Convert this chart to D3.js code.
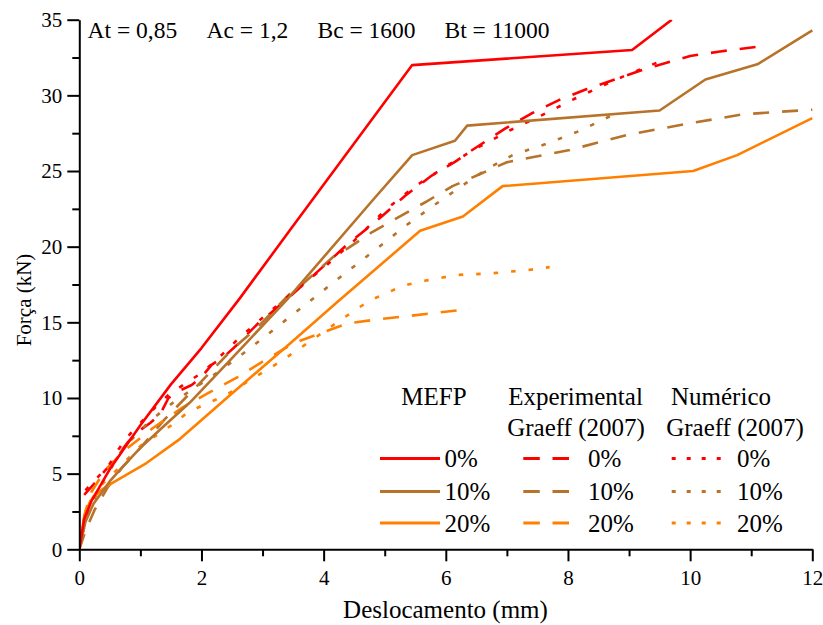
<!DOCTYPE html>
<html><head><meta charset="utf-8">
<script src="https://cdn.jsdelivr.net/npm/d3@7"></script>
<style>
body{margin:0;background:#fff}
text{font-family:"Liberation Serif","Times New Roman",serif;fill:#000}
</style>
</head><body>
<svg id="chart" width="823" height="625"></svg>
<script>
// ---------- data ----------
const xTicks = [0, 2, 4, 6, 8, 10, 12];
const xMinor = [1, 3, 5, 7, 9, 11];
const yTicks = [0, 5, 10, 15, 20, 25, 30, 35];
const yMinor = [2.5, 7.5, 12.5, 17.5, 22.5, 27.5, 32.5];

const mefp0 = [[0,0],[0.08,2.0],[0.2,3.2],[0.5,5.3],[1.0,8.2],[1.5,10.9],[2.0,13.3],[2.63,16.6],[3.45,21.1],[5.45,32],[9.05,33],[9.7,35]];
const mefp10 = [[0,0],[0.1,1.8],[0.23,3.0],[0.5,4.5],[0.72,5.5],[1.0,6.7],[1.4,8.2],[1.81,9.7],[2.47,12.5],[3.4,16.5],[4.81,23.1],[5.45,26.05],[6.15,27],[6.35,28],[9.5,29],[10.25,31.05],[11.1,32.05],[12,34.3]];
const mefp20 = [[0,0],[0.08,2.2],[0.18,3.2],[0.35,3.9],[0.55,4.4],[1.1,5.7],[1.65,7.3],[2.47,10.2],[3.45,13.6],[4.21,16.3],[5.58,21.05],[6.28,22.0],[6.93,24.0],[10.05,25.0],[10.77,26.05],[12,28.5]];

const exp0 = [[0.08,3.6],[0.26,4.4],[0.42,5.2],[0.56,5.8],[0.8,7.1],[0.97,7.8],[1.16,8.35],[1.32,8.9],[1.46,10.0],[1.65,10.5],[1.84,10.86],[1.98,11.3],[2.17,12.2],[2.36,12.7],[2.58,13.5],[2.71,14.05],[2.93,14.94],[3.1,15.5],[3.45,16.7],[4.16,19.3],[4.4,20.2],[4.62,20.9],[4.95,22.0],[5.33,23.35],[5.77,24.7],[6.15,25.6],[6.4,26.3],[6.97,27.8],[7.4,28.8],[7.86,29.7],[8.3,30.4],[8.8,31.1],[9.23,31.7],[10.0,32.6],[10.49,32.9],[11.21,33.27]];
const exp10 = [[0,0],[0.1,1.2],[0.25,2.6],[0.45,4.0],[0.7,5.4],[1.0,6.7],[1.4,8.6],[2.0,11.1],[2.5,13.2],[2.9,14.6],[3.45,16.9],[3.61,17.36],[4.16,19.34],[4.4,19.9],[4.81,21.0],[5.25,22.0],[5.69,23.0],[6.11,24.0],[6.59,24.85],[7.0,25.58],[8.03,26.39],[8.96,27.38],[9.92,28.1],[10.87,28.75],[11.9,29.03],[12,29.05]];
const exp20 = [[0,0],[0.1,2.5],[0.2,3.8],[0.4,5.1],[0.7,6.4],[1.2,8.0],[1.7,9.4],[2.1,10.3],[2.6,11.4],[3.0,12.4],[3.5,13.6],[3.94,14.27],[4.4,14.94],[4.9,15.2],[5.4,15.42],[5.9,15.66],[6.39,15.88]];

const num0 = [[0.1,3.9],[0.31,4.8],[0.47,5.46],[0.64,6.6],[0.83,7.62],[1.02,8.43],[1.24,9.36],[1.46,10.2],[1.7,10.86],[1.95,11.52],[2.19,12.3],[2.6,13.9],[3.0,15.3],[3.5,17.0],[4.0,18.6],[4.5,20.4],[5.03,22.5],[5.5,24.0],[6.0,25.3],[6.5,26.5],[7.04,27.67],[7.56,28.66],[8.09,29.74],[8.6,30.7],[8.9,31.24],[9.45,32.15]];
const num10 = [[0,0],[0.05,1.0],[0.15,2.5],[0.35,4.2],[0.72,6.7],[0.94,7.6],[1.13,8.4],[1.6,9.9],[2.09,11.2],[2.56,12.56],[3.02,14.0],[3.49,15.5],[3.95,16.96],[4.42,18.46],[4.88,19.9],[5.35,21.4],[5.83,22.8],[6.33,24.2],[6.7,25.2],[7.1,26.06],[7.65,26.8],[8.2,27.67],[8.47,28.2],[8.73,28.7]];
const num20 = [[0,0],[0.1,2.5],[0.3,4.0],[0.7,5.6],[1.02,6.9],[1.27,7.55],[1.51,8.2],[1.76,9.0],[2.03,9.54],[2.29,9.98],[2.55,10.53],[2.79,11.19],[3.04,11.78],[3.29,12.4],[3.53,13.06],[3.77,13.72],[4.02,14.43],[4.26,15.1],[4.5,15.77],[4.75,16.43],[5.02,16.92],[5.29,17.4],[5.58,17.69],[5.88,17.91],[6.17,18.13],[6.46,18.18],[6.76,18.24],[7.05,18.35],[7.35,18.46],[7.7,18.65]];

const rowLabels = ["0%", "10%", "20%"];
const colHeaders = [["MEFP"], ["Experimental", "Graeff (2007)"], ["Numérico", "Graeff (2007)"]];
const annotations = ["At = 0,85", "Ac = 1,2", "Bc = 1600", "Bt = 11000"];
const xTitle = "Deslocamento (mm)";
const yTitle = "Força (kN)";

// ---------- styles ----------
const colors = ["#FF0000", "#B8732B", "#FF8000"];
const dashStyles = ["none", "16,13", "4.5,13"];
const series = [
  {d: exp0, c: 0, s: 1}, {d: exp10, c: 1, s: 1}, {d: exp20, c: 2, s: 1},
  {d: num0, c: 0, s: 2}, {d: num10, c: 1, s: 2}, {d: num20, c: 2, s: 2},
  {d: mefp20, c: 2, s: 0}, {d: mefp10, c: 1, s: 0}, {d: mefp0, c: 0, s: 0}
];

// ---------- layout ----------
const svg = d3.select("#chart");
const pL = 79.3, pR = 812.3, pT = 19.7, pB = 549.3;
const x = d3.scaleLinear().domain([0, 12]).range([pL, pR]);
const y = d3.scaleLinear().domain([0, 35]).range([pB, pT]);

svg.append("defs").append("clipPath").attr("id", "clip")
  .append("rect").attr("x", pL).attr("y", pT).attr("width", pR - pL + 10).attr("height", pB - pT);

const line = d3.line().x(d => x(d[0])).y(d => y(d[1]));
const g = svg.append("g").attr("clip-path", "url(#clip)");
series.forEach(sr => {
  g.append("path").attr("d", line(sr.d))
    .attr("fill", "none").attr("stroke", colors[sr.c]).attr("stroke-width", 2.6)
    .attr("stroke-dasharray", dashStyles[sr.s]).attr("stroke-linejoin", "round");
});

// axes
const tickFont = 21;
svg.append("g").attr("transform", `translate(0,${pB})`)
  .call(d3.axisBottom(x).tickValues(xTicks).tickSize(12).tickSizeOuter(0).tickPadding(9).tickFormat(d3.format("d")));
svg.append("g").attr("transform", `translate(0,${pB})`)
  .call(d3.axisBottom(x).tickValues(xMinor).tickSize(7).tickSizeOuter(0).tickFormat(""))
  .select(".domain").remove();
svg.append("g").attr("transform", `translate(${pL},0)`)
  .call(d3.axisLeft(y).tickValues(yTicks).tickSize(12).tickSizeOuter(0).tickPadding(5).tickFormat(d3.format("d")));
svg.append("g").attr("transform", `translate(${pL},0)`)
  .call(d3.axisLeft(y).tickValues(yMinor).tickSize(7).tickSizeOuter(0).tickFormat(""))
  .select(".domain").remove();
svg.selectAll(".domain").attr("stroke", "#000").attr("stroke-width", 2);
svg.selectAll(".tick line").attr("stroke", "#000").attr("stroke-width", 2);
svg.selectAll(".tick text").attr("font-size", tickFont)
  .attr("font-family", '"Liberation Serif","Times New Roman",serif').attr("fill", "#000");

// titles
svg.append("text").attr("x", 445.5).attr("y", 618).attr("text-anchor", "middle")
  .attr("font-size", 25).text(xTitle);
svg.append("text").attr("transform", "translate(31,300) rotate(-90)").attr("text-anchor", "middle")
  .attr("font-size", 21).text(yTitle);

// annotations
const annX = [87.5, 206.5, 317.5, 444.5];
annotations.forEach((t, i) => {
  svg.append("text").attr("x", annX[i]).attr("y", 38.3).attr("font-size", 23.5).text(t);
});

// legend
const lg = svg.append("g");
const headCx = [434, 575.5, 721];
const headCx2 = [434, 576, 735];
colHeaders.forEach((h, i) => {
  lg.append("text").attr("x", headCx[i]).attr("y", 404.5).attr("text-anchor", "middle").attr("font-size", 25).text(h[0]);
  if (h[1]) lg.append("text").attr("x", headCx2[i]).attr("y", 435.5).attr("text-anchor", "middle").attr("font-size", 25).text(h[1]);
});
const rowY = [458.5, 491.5, 523];
const lineX = [[380, 440], [523.3, 569], [671.7, 731]];
const textX = [444.5, 588, 737];
rowLabels.forEach((lab, r) => {
  for (let c = 0; c < 3; c++) {
    lg.append("line").attr("x1", lineX[c][0]).attr("x2", lineX[c][1])
      .attr("y1", rowY[r]).attr("y2", rowY[r])
      .attr("stroke", colors[r]).attr("stroke-width", 2.8)
      .attr("stroke-dasharray", c === 0 ? "none" : (c === 1 ? "16.5,12.7" : "4,11"));
    lg.append("text").attr("x", textX[c]).attr("y", rowY[r] + 8.5).attr("font-size", 25).text(lab);
  }
});
</script>
</body></html>
